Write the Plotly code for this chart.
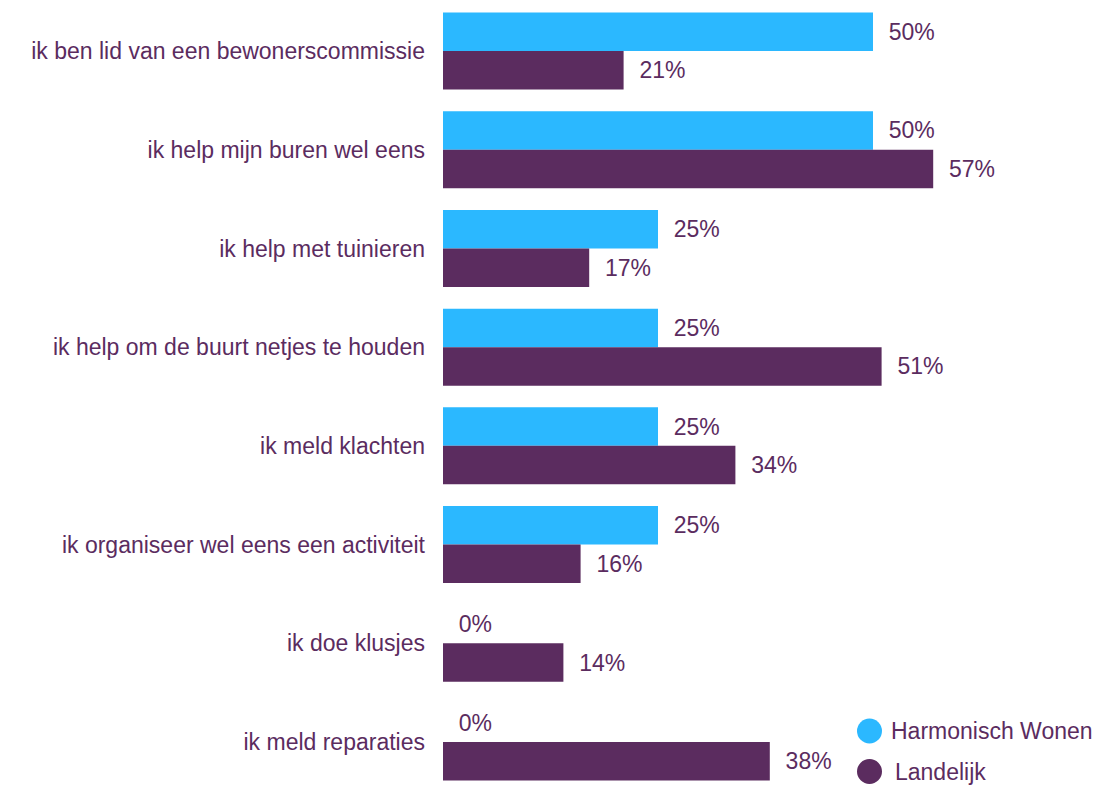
import plotly.graph_objects as go

categories = [
    "ik ben lid van een bewonerscommissie",
    "ik help mijn buren wel eens",
    "ik help met tuinieren",
    "ik help om de buurt netjes te houden",
    "ik meld klachten",
    "ik organiseer wel eens een activiteit",
    "ik doe klusjes",
    "ik meld reparaties",
]
harmonisch = [50, 50, 25, 25, 25, 25, 0, 0]
landelijk = [21, 57, 17, 51, 34, 16, 14, 38]
series_names = ["Harmonisch Wonen", "Landelijk"]

BLUE = "#2BB8FF"
PURPLE = "#5B2C5F"
TEXT = "#5B2C5F"
FONT = "Liberation Sans, Arial, sans-serif"
FS = 23
pad = "\u00a0\u00a0"

W, H = 1102, 786
ML = 443

fig = go.Figure()
for name, vals, col in [(series_names[0], harmonisch, BLUE), (series_names[1], landelijk, PURPLE)]:
    fig.add_trace(go.Bar(
        y=categories, x=vals, orientation="h", name=name,
        marker=dict(color=col, line=dict(width=0)),
        text=[f"{pad}{v}%" for v in vals], textposition="outside",
        textfont=dict(color=TEXT, size=FS, family=FONT),
        cliponaxis=False, showlegend=False, hoverinfo="skip",
    ))

# manual legend (circle markers)
PW = W - ML
def px_x(px):
    return (px - ML) / PW
def px_y(py):
    return 1 - py / H

legend_items = [(series_names[0], BLUE, 731, 889), (series_names[1], PURPLE, 771.5, 893)]
shapes, annotations = [], []
for name, col, cy, tx in legend_items:
    shapes.append(dict(type="circle", xref="paper", yref="paper",
                       xsizemode="pixel", ysizemode="pixel",
                       xanchor=px_x(869.5), yanchor=px_y(cy),
                       x0=-12.5, x1=12.5, y0=-12.5, y1=12.5,
                       fillcolor=col, line=dict(width=0)))
    annotations.append(dict(text=name, xref="paper", yref="paper",
                            x=px_x(tx), y=px_y(cy), xanchor="left", yanchor="middle",
                            showarrow=False, font=dict(size=FS, color=TEXT, family=FONT)))

fig.update_layout(
    width=W, height=H,
    margin=dict(l=ML, r=0, t=0, b=0),
    barmode="group", bargap=0.22, bargroupgap=0,
    plot_bgcolor="white", paper_bgcolor="white",
    font=dict(family=FONT, size=FS, color=TEXT),
    showlegend=False,
    xaxis=dict(range=[0, PW / 8.6], visible=False, showgrid=False, zeroline=False,
               automargin=False),
    yaxis=dict(range=[7.446, -0.517], showgrid=False, zeroline=False, showline=False,
               ticks="", ticklabelstandoff=17, automargin=False,
               tickfont=dict(size=FS, color=TEXT, family=FONT)),
    shapes=shapes, annotations=annotations,
)

fig.write_html(
    "out.html",
    config={"displayModeBar": False},
    post_script="document.body.style.margin='0';document.body.style.overflow='hidden';",
)
